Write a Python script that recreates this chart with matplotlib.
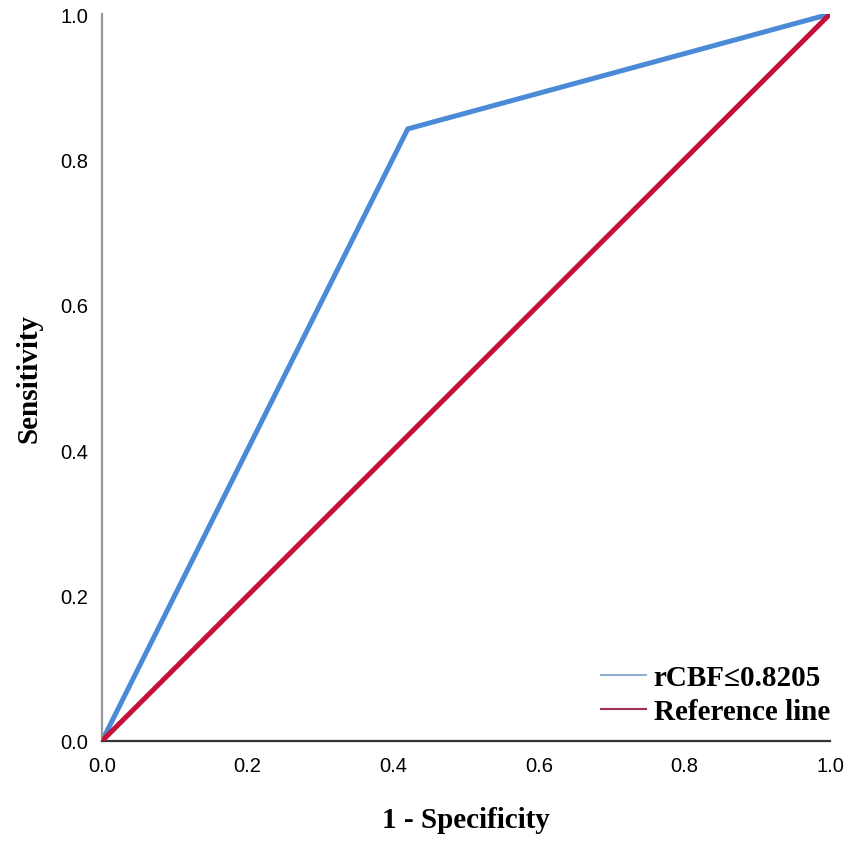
import matplotlib
matplotlib.use('Agg')
import matplotlib.pyplot as plt
from matplotlib.lines import Line2D

# ROC curve points
roc_fpr = [0.0, 0.42, 1.0]
roc_tpr = [0.0, 0.842, 1.0]
ref_x = [0.0, 1.0]
ref_y = [0.0, 1.0]
ticks = [0.0, 0.2, 0.4, 0.6, 0.8, 1.0]
tick_labels = ['0.0', '0.2', '0.4', '0.6', '0.8', '1.0']
legend_labels = ['rCBF\u22640.8205', 'Reference line']

blue = '#4a8ad6'
red = '#c4113a'

fig = plt.figure(figsize=(8.51, 8.45), dpi=100)
ax = fig.add_axes([0.1199, 0.1219, 0.8554, 0.8603])

ax.plot(ref_x, ref_y, color=red, lw=3.6, solid_capstyle='round', zorder=3)
ax.plot(roc_fpr, roc_tpr, color=blue, lw=3.6, solid_capstyle='round', zorder=2)

ax.set_xlim(0, 1)
ax.set_ylim(0, 1)
ax.set_xticks(ticks)
ax.set_xticklabels(tick_labels)
ax.set_yticks(ticks)
ax.set_yticklabels(tick_labels)
ax.tick_params(axis='x', length=0, labelsize=14.5, pad=11)
ax.tick_params(axis='y', length=0, labelsize=14.5, pad=10)
for lab in ax.get_xticklabels() + ax.get_yticklabels():
    lab.set_family('Liberation Sans')

ax.spines['top'].set_visible(False)
ax.spines['right'].set_visible(False)
ax.spines['left'].set_color('#999999')
ax.spines['left'].set_linewidth(1.6)
ax.spines['bottom'].set_color('#333333')
ax.spines['bottom'].set_linewidth(1.6)

ax.set_xlabel('1 - Specificity', family='Liberation Serif', fontweight='bold',
              fontsize=21, labelpad=22)
ax.set_ylabel('Sensitivity', family='Liberation Serif', fontweight='bold',
              fontsize=21, labelpad=13)

handles = [Line2D([], [], color='#8fb0d0', lw=1.5),
           Line2D([], [], color='#a03050', lw=1.5)]
ax.legend(handles, legend_labels, loc='lower right', frameon=False,
          prop={'family': 'Liberation Serif', 'weight': 'bold', 'size': 21},
          handlelength=1.55, handletextpad=0.25, labelspacing=0.25,
          borderaxespad=0, borderpad=0, bbox_to_anchor=(1.0, 0.022))

fig.savefig('out.png', dpi=100)
